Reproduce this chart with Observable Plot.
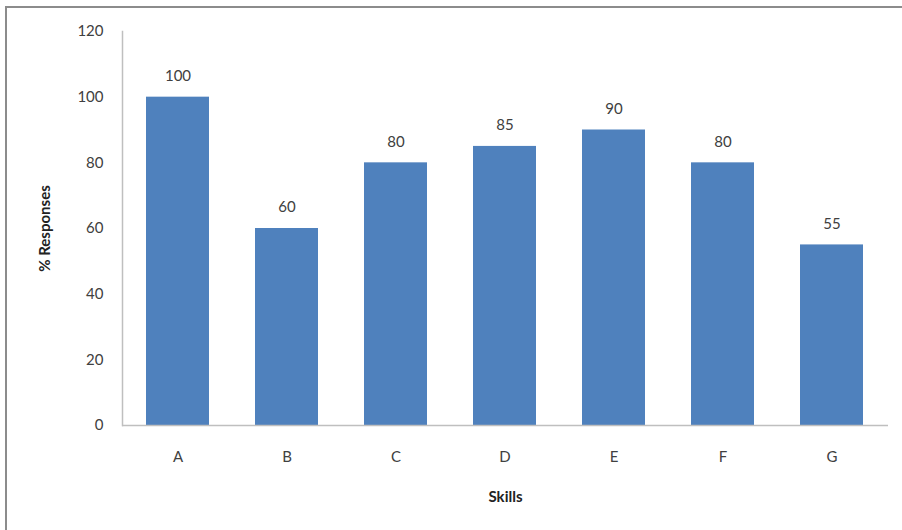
<!DOCTYPE html>
<html>
<head>
<meta charset="utf-8">
<script src="https://cdn.jsdelivr.net/npm/d3@7"></script>
<script src="https://cdn.jsdelivr.net/npm/@observablehq/plot@0.6"></script>
<style>
  html, body { margin: 0; padding: 0; background: #fff; }
  #frame { position: absolute; left: 5px; top: 6px; width: 1200px; height: 1200px;
           border-left: 2px solid #8c8c8c; border-top: 2px solid #8c8c8c; pointer-events: none; }
  #chart { position: absolute; left: 0; top: 0; }
</style>
</head>
<body>
<div id="chart"></div>
<div id="frame"></div>
<script>
const skills = ["A", "B", "C", "D", "E", "F", "G"];
const responses = [100, 60, 80, 85, 90, 80, 55];
const yTicks = [0, 20, 40, 60, 80, 100, 120];

const data = skills.map((s, i) => ({skill: s, value: responses[i]}));

const chart = Plot.plot({
  width: 902,
  height: 530,
  marginLeft: 122,
  marginRight: 14,
  marginTop: 31,
  marginBottom: 105,
  style: {fontFamily: "Lato, 'Open Sans', sans-serif", fontSize: "15px", color: "#404040", background: "transparent"},
  x: {domain: skills, paddingInner: 0.42, paddingOuter: 0.21, label: null, tickSize: 0, tickPadding: 26},
  y: {domain: [0, 120], ticks: yTicks, label: null, tickSize: 0, tickPadding: 19},
  marks: [
    Plot.barY(data, {x: "skill", y: "value", fill: "#4f81bd"}),
    Plot.frame({anchor: "left", stroke: "#bfbfbf", strokeWidth: 1.5}),
    Plot.ruleY([0], {stroke: "#bfbfbf", strokeWidth: 1.5}),
    Plot.text(data, {x: "skill", y: "value", text: d => String(d.value), dy: -21, fill: "#404040", fontSize: 15}),
    Plot.axisX({tickSize: 0, tickPadding: 26, label: null, fill: "#404040", fontSize: 15}),
    Plot.axisY({ticks: yTicks, tickSize: 0, tickPadding: 19, label: null, fill: "#404040", fontSize: 15}),
    Plot.text(["Skills"], {frameAnchor: "bottom", dy: 76, fontWeight: "bold", fontSize: 15, fill: "#222"}),
    Plot.text(["% Responses"], {frameAnchor: "left", textAnchor: "middle", dx: -77, rotate: -90, fontWeight: "bold", fontSize: 15, fill: "#222"})
  ]
});
document.getElementById("chart").appendChild(chart);
</script>
</body>
</html>
